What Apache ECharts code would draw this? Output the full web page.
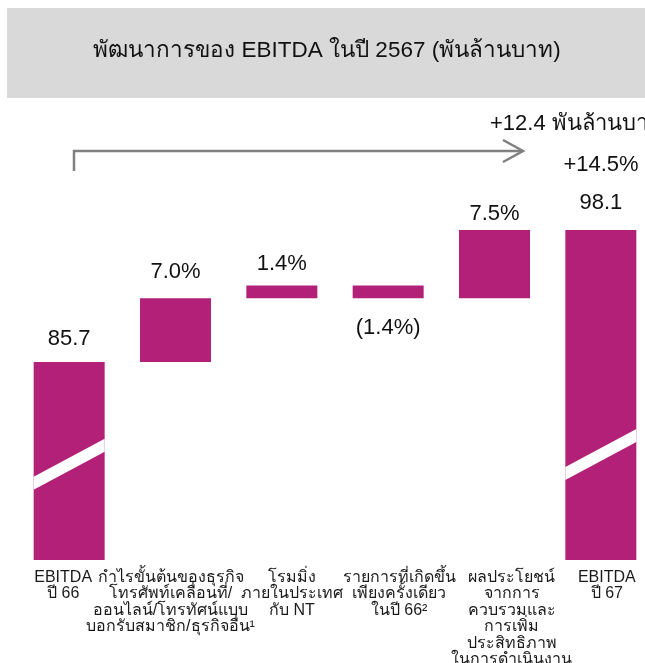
<!DOCTYPE html>
<html>
<head>
<meta charset="utf-8">
<script src="https://cdn.jsdelivr.net/npm/echarts@6/dist/echarts.min.js"></script>
<style>
  html, body { margin: 0; padding: 0; background: #fff; }
  #chart { width: 645px; height: 663px; }
</style>
</head>
<body>
<div id="chart"></div>
<script>
// data
const categories = [
  'EBITDA\nปี 66',
  'กำไรขั้นต้นของธุรกิจ\nโทรศัพท์เคลื่อนที่/\nออนไลน์/โทรทัศน์แบบ\nบอกรับสมาชิก/ธุรกิจอื่น¹',
  'โรมมิ่ง\nภายในประเทศ\nกับ NT',
  'รายการที่เกิดขึ้น\nเพียงครั้งเดียว\nในปี 66²',
  'ผลประโยชน์\nจากการ\nควบรวมและ\nการเพิ่ม\nประสิทธิภาพ\nในการดำเนินงาน',
  'EBITDA\nปี 67'
];
const startValue = 85.7;
const deltas = [6.0, 1.2, -1.2, 6.4];
const endValue = 98.1;
const barLabels = ['85.7', '7.0%', '1.4%', '(1.4%)', '7.5%', '98.1'];
const breakCats = [0, 5];
const breakValues = [76.1, 77.0];
const titleText = 'พัฒนาการของ EBITDA ในปี 2567 (พันล้านบาท)';
const totalText = '+12.4 พันล้านบาท';
const totalPct = '+14.5%';

// build waterfall: invisible base + visible step
const base = [0];
const steps = [startValue];
let running = startValue;
deltas.forEach(function (d) {
  if (d >= 0) { base.push(running); steps.push(d); }
  else { base.push(running + d); steps.push(-d); }
  running += d;
});
base.push(0);
steps.push(endValue);

// layout tweaks
const labelDist = [12, 15, 10, 19, 5, 16];
const labelPos = ['top', 'top', 'top', 'bottom', 'top', 'top'];
const catShift = [-6, -5, 10, 11, 17, 6];

const FONT = '"Liberation Sans", "Noto Sans", sans-serif';
const BAR = '#b32078';

const chart = echarts.init(document.getElementById('chart'));
const option = {
  animation: false,
  grid: { left: 16, top: 180, width: 638, height: 380, outerBoundsMode: 'none' },
  xAxis: {
    type: 'category',
    data: categories.map(function (c, i) {
      const s = catShift[i];
      return {
        value: c,
        textStyle: { padding: s > 0 ? [0, 0, 0, 2 * s] : [0, -2 * s, 0, 0] }
      };
    }),
    axisLine: { show: false },
    axisTick: { show: false },
    axisLabel: {
      interval: 0,
      margin: 9,
      fontFamily: FONT,
      fontSize: 16,
      lineHeight: 16.5,
      color: '#1a1a1a'
    }
  },
  yAxis: {
    type: 'value',
    min: 67.1,
    max: 102.8,
    show: false,
    splitLine: { show: false }
  },
  series: [
    {
      type: 'bar',
      stack: 'w',
      data: base,
      barWidth: 71,
      itemStyle: { color: 'transparent' },
      silent: true
    },
    {
      type: 'bar',
      stack: 'w',
      barWidth: 71,
      data: steps.map(function (v, i) {
        return {
          value: v,
          label: { position: labelPos[i], distance: labelDist[i] }
        };
      }),
      itemStyle: { color: BAR },
      label: {
        show: true,
        fontFamily: FONT,
        fontSize: 22,
        color: '#111',
        formatter: function (p) { return barLabels[p.dataIndex]; }
      }
    },
    {
      // white diagonal "break" stripes on the two totals
      type: 'custom',
      z: 10,
      data: breakCats.map(function (c, i) { return [c, breakValues[i]]; }),
      renderItem: function (params, api) {
        const p = api.coord([api.value(0), api.value(1)]);
        const hw = 35.5, rise = 19, th = 6.5;
        return {
          type: 'polygon',
          shape: {
            points: [
              [p[0] - hw, p[1] + rise - th],
              [p[0] + hw, p[1] - rise - th],
              [p[0] + hw, p[1] - rise + th],
              [p[0] - hw, p[1] + rise + th]
            ]
          },
          style: { fill: '#fff' }
        };
      }
    }
  ],
  graphic: [
    {
      type: 'rect',
      shape: { x: 7, y: 8, width: 650, height: 90 },
      style: { fill: '#d9d9d9' }
    },
    {
      type: 'text',
      x: 327, y: 51,
      style: {
        text: titleText,
        font: '22.5px ' + FONT,
        fill: '#111',
        align: 'center',
        verticalAlign: 'middle'
      }
    },
    {
      type: 'polyline',
      shape: { points: [[74, 171], [74, 151], [522, 151]] },
      style: { stroke: '#808080', lineWidth: 2.5, fill: null }
    },
    {
      type: 'polyline',
      shape: { points: [[503, 140], [523, 151], [503, 162]] },
      style: { stroke: '#808080', lineWidth: 2.5, fill: null }
    },
    {
      type: 'text',
      x: 490, y: 124,
      style: {
        text: totalText,
        font: '22px ' + FONT,
        fill: '#111',
        align: 'left',
        verticalAlign: 'middle'
      }
    },
    {
      type: 'text',
      x: 601, y: 165,
      style: {
        text: totalPct,
        font: '22px ' + FONT,
        fill: '#111',
        align: 'center',
        verticalAlign: 'middle'
      }
    }
  ]
};
option && chart.setOption(option);
</script>
</body>
</html>
